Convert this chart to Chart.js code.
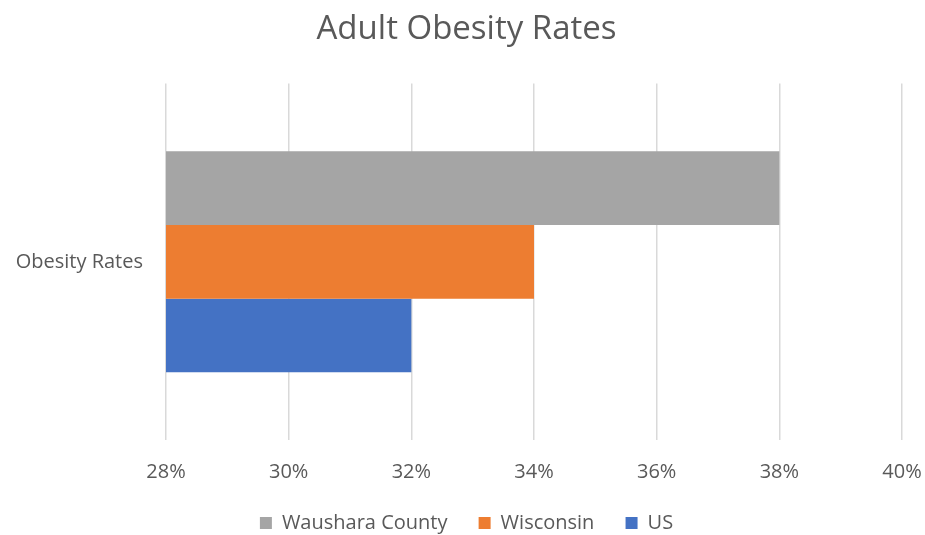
<!DOCTYPE html>
<html>
<head>
<meta charset="utf-8">
<script src="https://cdn.jsdelivr.net/npm/chart.js@4"></script>
<style>
  html, body { margin: 0; padding: 0; background: #fff; }
  #wrap { width: 925px; height: 535px; }
</style>
</head>
<body>
<div id="wrap"><canvas id="obesityChart"></canvas></div>
<script>
// chart data
const categories = ['Obesity Rates'];
const seriesNames = ['Waushara County', 'Wisconsin', 'US'];
const wausharaValues = [38];
const wisconsinValues = [34];
const usValues = [32];
const tickMin = 28, tickMax = 40, tickStep = 2;

const textColor = '#595959';
const fontFamily = '"Open Sans", "Liberation Sans", sans-serif';

const ctx = document.getElementById('obesityChart');
new Chart(ctx.getContext('2d'), {
  type: 'bar',
  data: {
    labels: categories,
    datasets: [
      { label: seriesNames[0], data: wausharaValues, backgroundColor: '#a5a5a5' },
      { label: seriesNames[1], data: wisconsinValues, backgroundColor: '#ed7d31' },
      { label: seriesNames[2], data: usValues, backgroundColor: '#4472c4' }
    ]
  },
  options: {
    indexAxis: 'y',
    responsive: true,
    maintainAspectRatio: false,
    animation: false,
    categoryPercentage: 0.62,
    barPercentage: 1.0,
    layout: { padding: { left: 10, right: 2, bottom: -8 } },
    plugins: {
      title: {
        display: true,
        text: 'Adult Obesity Rates',
        color: textColor,
        font: { family: fontFamily, size: 33, weight: 'normal' },
        padding: { top: 10, bottom: 34 }
      },
      legend: {
        position: 'bottom',
        labels: {
          color: textColor,
          font: { family: fontFamily, size: 20 },
          boxWidth: 12,
          boxHeight: 12,
          padding: 0,
          // legend padding is 0 to keep it low, so space the items with trailing blanks
          generateLabels: chart => {
            const items = Chart.defaults.plugins.legend.labels.generateLabels(chart);
            items.forEach((it, i) => {
              if (i < items.length - 1) it.text = it.text + '\u00A0\u00A0\u00A0\u00A0\u00A0\u00A0';
            });
            return items;
          }
        }
      },
      tooltip: { enabled: false }
    },
    scales: {
      x: {
        min: tickMin,
        max: tickMax,
        ticks: {
          stepSize: tickStep,
          color: textColor,
          font: { family: fontFamily, size: 20 },
          padding: 20,
          callback: v => v + '%'
        },
        grid: { color: '#d9d9d9', lineWidth: 1.5, drawTicks: false },
        border: { display: false },
        afterFit: s => { s.height = 73; s.paddingRight = 23; }
      },
      y: {
        ticks: {
          color: textColor,
          font: { family: fontFamily, size: 20 },
          padding: 15
        },
        grid: { display: false },
        border: { display: false },
        afterFit: s => { s.width = 156; }
      }
    }
  }
});
</script>
</body>
</html>
